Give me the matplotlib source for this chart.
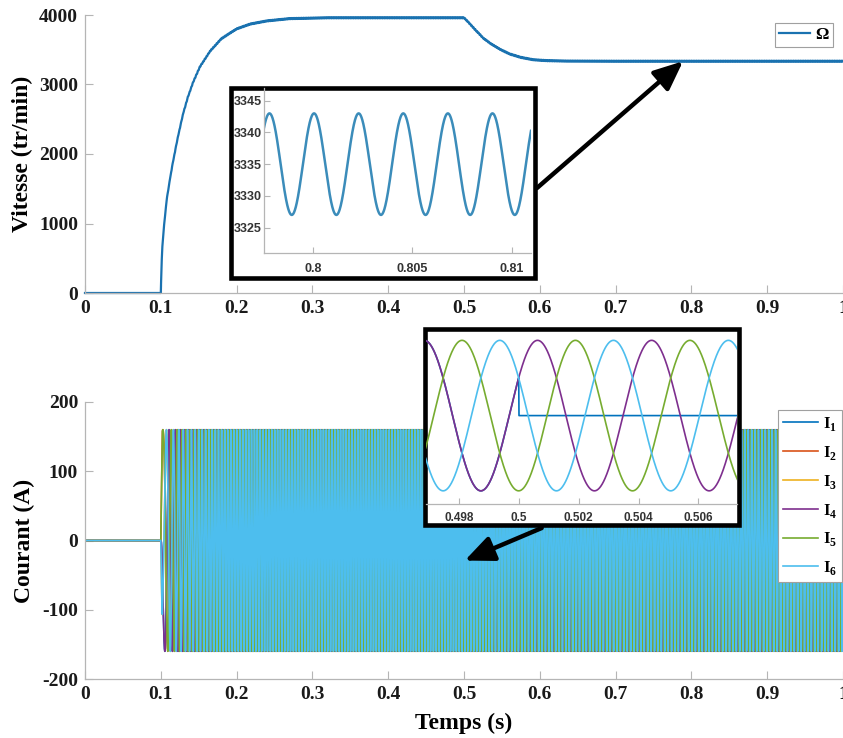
import numpy as np
import matplotlib
matplotlib.use("Agg")
import matplotlib.pyplot as plt
from matplotlib.patches import Rectangle

plt.rcParams['font.family'] = ['Liberation Serif', 'DejaVu Serif']
plt.rcParams['font.weight'] = 'bold'
plt.rcParams['mathtext.fontset'] = 'custom'
plt.rcParams['mathtext.rm'] = 'Liberation Serif'
plt.rcParams['mathtext.bf'] = 'Liberation Serif:bold'
plt.rcParams['axes.unicode_minus'] = False

# speed (s, tr/min)
t_speed = [0.0, 0.1, 0.1008, 0.1018, 0.1033, 0.1055, 0.1077, 0.112, 0.1165, 0.123,
           0.1297, 0.136, 0.1429, 0.1517, 0.165, 0.18, 0.2, 0.218, 0.24, 0.27,
           0.32, 0.5, 0.505, 0.51, 0.5155, 0.52, 0.5255, 0.535, 0.5475, 0.56,
           0.575, 0.5915, 0.61, 0.6355, 0.7, 1.0]
w_speed = [0, 0, 350, 620, 860, 1100, 1335, 1640, 1912, 2270,
           2590, 2830, 3040, 3257, 3480, 3660, 3800, 3870, 3915, 3948,
           3960, 3960, 3905, 3845, 3780, 3730, 3666, 3590, 3507, 3440,
           3390, 3356, 3343, 3337, 3335, 3335]

# speed ripple
ripple_amp = 8.0          # tr/min
ripple_freq = 445.4       # Hz
ripple_peak = 0.80005     # s

# currents
pole_pairs = 4
i_amp = 160.0             # A
t_start = 0.1
t_ramp = 0.002            # current rise at start
theta_start = np.pi / 2   # I4 starts at 0 going down, I5 up, I6 low
t_fault = 0.5             # I1 goes to 0
t_peak_i4 = 0.50062       # a maximum of I4 seen in the second zoom
phase_shift = {'I1': 0.0, 'I2': 4 * np.pi / 3, 'I3': 2 * np.pi / 3,
               'I4': 0.0, 'I5': 4 * np.pi / 3, 'I6': 2 * np.pi / 3}
names = ['I1', 'I2', 'I3', 'I4', 'I5', 'I6']
colors = ['#0072BD', '#D95319', '#EDB120', '#7E2F8E', '#77AC30', '#4DBEEE']

x_ticks = [0, 0.1, 0.2, 0.3, 0.4, 0.5, 0.6, 0.7, 0.8, 0.9, 1]
x_labels = ['0', '0.1', '0.2', '0.3', '0.4', '0.5', '0.6', '0.7', '0.8', '0.9', '1']

dt = 1e-5
t = np.arange(0, 1 + dt / 2, dt)
w = np.interp(t, t_speed, w_speed)
w_plot = w + np.where(w > 0, ripple_amp * np.cos(2 * np.pi * ripple_freq * (t - ripple_peak)), 0)

# electrical angle from the speed, starting at theta_start, then nudged so
# that I4 peaks where the zoom shows it
theta = theta_start + 2 * np.pi * np.cumsum(pole_pairs * w / 60.0) * dt
err = -theta[int(round(t_peak_i4 / dt))]
err = (err + np.pi) % (2 * np.pi) - np.pi
theta = theta + err * np.clip((t - 0.12) / 0.36, 0, 1)

amp = i_amp * np.clip((t - t_start) / t_ramp, 0, 1)
currents = {}
for n in names:
    currents[n] = amp * np.cos(theta + phase_shift[n])
currents['I1'] = np.where(t >= t_fault, 0.0, currents['I1'])

W, H = 843, 738
fig = plt.figure(figsize=(W / 100, H / 100), dpi=100)


def fx(px):
    return px / W


def fy(py):
    return 1 - py / H


def style(ax, size=14, fam='Liberation Serif', pad=5):
    for s in ['top', 'right']:
        ax.spines[s].set_visible(False)
    for s in ['left', 'bottom']:
        ax.spines[s].set_color('#b5b5b5')
        ax.spines[s].set_linewidth(0.9)
    ax.tick_params(direction='in', length=6, color='#b5b5b5', labelcolor='#1a1a1a',
                   labelsize=size, pad=pad)
    for lab in ax.get_xticklabels() + ax.get_yticklabels():
        lab.set_family(fam)
        lab.set_weight('bold')


ax1 = fig.add_axes([fx(85), fy(293), fx(758), 278 / H])
ax2 = fig.add_axes([fx(85), fy(679), fx(758), 277 / H])

ax1.plot(t, w_plot, color='#1a72b0', lw=1.6, label='Ω', clip_on=False)
ax1.set_xlim(0, 1)
ax1.set_ylim(0, 4000)
ax1.set_yticks([0, 1000, 2000, 3000, 4000])
ax1.set_xticks(x_ticks)
ax1.set_xticklabels(x_labels)
ax1.set_ylabel('Vitesse (tr/min)', fontsize=17, fontweight='bold')
style(ax1)
ax1.yaxis.set_label_coords(-0.068, 0.5)

for n, c in zip(names, colors):
    ax2.plot(t, currents[n], color=c, lw=1.2,
             label=r'$\mathbf{I}_{\mathbf{' + n[1] + '}}$')
ax2.set_xlim(0, 1)
ax2.set_ylim(-200, 200)
ax2.set_yticks([-200, -100, 0, 100, 200])
ax2.set_xticks(x_ticks)
ax2.set_xticklabels(x_labels)
ax2.set_xlabel('Temps (s)', fontsize=17, fontweight='bold', labelpad=7)
ax2.set_ylabel('Courant (A)', fontsize=17, fontweight='bold')
style(ax2)
ax2.yaxis.set_label_coords(-0.066, 0.5)

leg1 = ax1.legend(loc='upper right', bbox_to_anchor=(fx(833), fy(23)),
                  bbox_transform=fig.transFigure, borderaxespad=0, fancybox=False,
                  edgecolor='#a0a0a0', framealpha=1, fontsize=12, handlelength=1.9,
                  handletextpad=0.3, borderpad=0.25)
leg1.get_frame().set_linewidth(0.8)
leg2 = ax2.legend(loc='upper right', bbox_to_anchor=(fx(842), fy(410)),
                  bbox_transform=fig.transFigure, borderaxespad=0, fancybox=False,
                  edgecolor='#a0a0a0', framealpha=1, fontsize=12, handlelength=2.1,
                  handletextpad=0.3, borderpad=0.3, labelspacing=0.65)
leg2.get_frame().set_linewidth(0.8)
leg2.set_zorder(5)

# zoom frames
fig.add_artist(Rectangle((fx(230.5), fy(277.5)), fx(304), 190 / H, transform=fig.transFigure,
                         facecolor='white', edgecolor='black', lw=3.3, zorder=2))
fig.add_artist(Rectangle((fx(424.5), fy(524.5)), fx(314), 196 / H, transform=fig.transFigure,
                         facecolor='white', edgecolor='black', lw=3.3, zorder=2))

# zoom 1: speed ripple
axz1 = fig.add_axes([fx(264), fy(253), fx(531 - 264), (253 - 88) / H], zorder=3)
axz1.set_facecolor('none')
m1 = (t > 0.797) & (t < 0.8115)
axz1.plot(t[m1], w_plot[m1], color='#3b8cba', lw=1.8)
axz1.set_xlim(0.79753, 0.81097)
axz1.set_ylim(3321, 3347)
axz1.set_yticks([3325, 3330, 3335, 3340, 3345])
axz1.set_xticks([0.8, 0.805, 0.81])
axz1.set_xticklabels(['0.8', '0.805', '0.81'])
style(axz1, size=9, fam='Liberation Sans', pad=1.5)
axz1.tick_params(axis='x', pad=7)
axz1.tick_params(length=4, labelcolor='#333333')

# zoom 2: currents around the fault
axz2 = fig.add_axes([fx(426), fy(504), fx(737 - 426), (504 - 330) / H], zorder=3)
axz2.set_facecolor('none')
m2 = (t > 0.4965) & (t < 0.5076)
for n in ['I1', 'I4', 'I5', 'I6']:
    axz2.plot(t[m2], currents[n][m2], color=colors[names.index(n)], lw=1.2)
axz2.set_xlim(0.49689, 0.50729)
axz2.set_ylim(-188, 182)
axz2.set_xticks([0.498, 0.5, 0.502, 0.504, 0.506])
axz2.set_xticklabels(['0.498', '0.5', '0.502', '0.504', '0.506'])
axz2.set_yticks([])
style(axz2, size=8.5, fam='Liberation Sans', pad=6)
axz2.spines['left'].set_visible(False)
axz2.tick_params(length=4, labelcolor='#333333')

# arrows
arrow = dict(arrowstyle='-|>,head_length=0.8,head_width=0.35', color='black', lw=3.2,
             shrinkA=0, shrinkB=0, mutation_scale=22)
ax1.annotate('', xy=(0.789, 3335), xytext=(fx(537), fy(188)), textcoords='figure fraction',
             arrowprops=arrow, annotation_clip=False)
ax2.annotate('', xy=(0.501, -29), xytext=(fx(541.7), fy(528)), textcoords='figure fraction',
             arrowprops=arrow, annotation_clip=False)

fig.savefig('out.png', dpi=100)
